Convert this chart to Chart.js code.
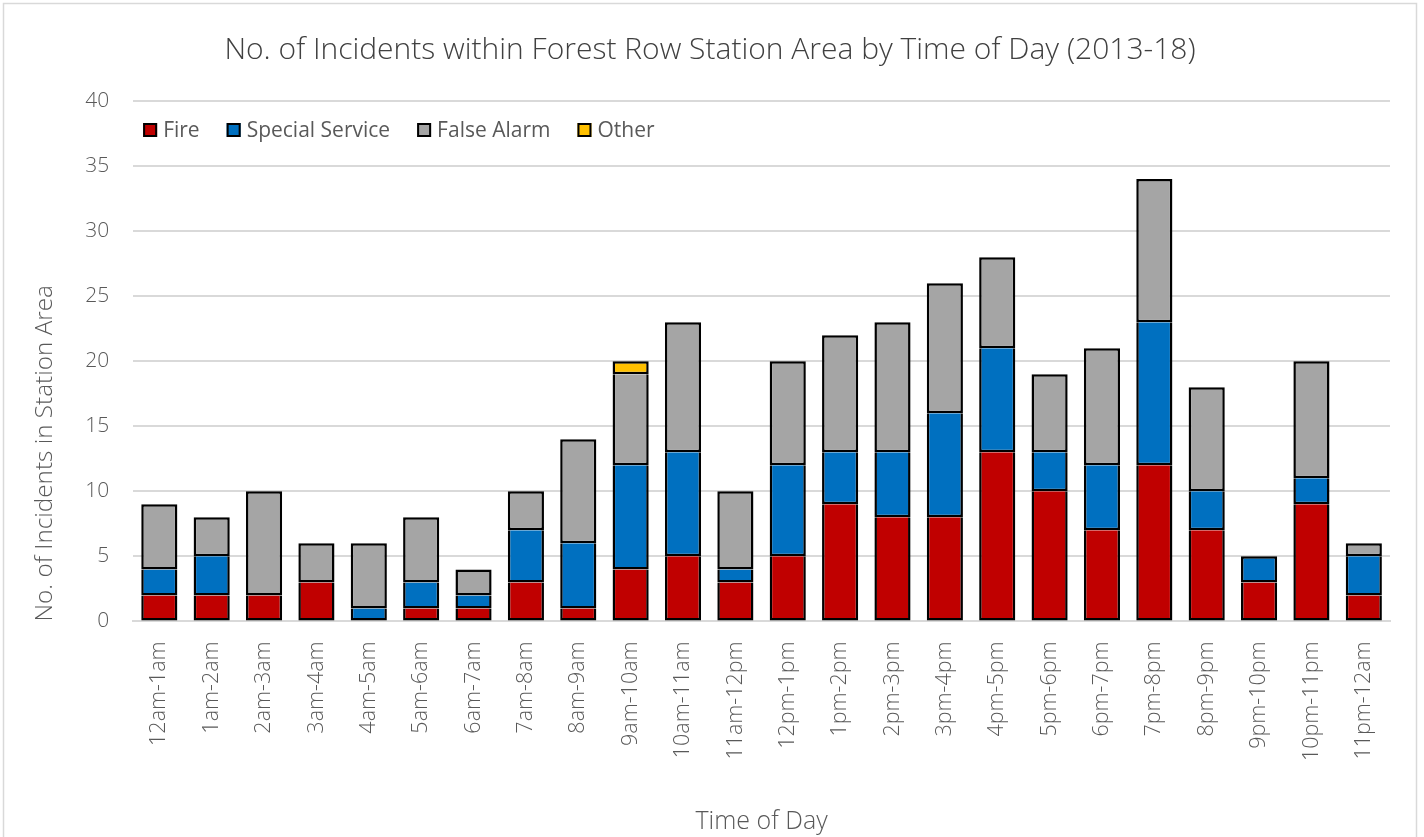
<!DOCTYPE html>
<html>
<head>
<meta charset="utf-8">
<script src="https://cdn.jsdelivr.net/npm/chart.js@4"></script>
<style>
  html, body { margin: 0; padding: 0; background: #ffffff; }
  #wrap { width: 1424px; height: 837px; }
</style>
</head>
<body>
<div id="wrap"><canvas id="c" width="1424" height="837"></canvas></div>
<script>
// Hourly bands
const timeBands = ['12am-1am','1am-2am','2am-3am','3am-4am','4am-5am','5am-6am','6am-7am','7am-8am',
  '8am-9am','9am-10am','10am-11am','11am-12pm','12pm-1pm','1pm-2pm','2pm-3pm','3pm-4pm',
  '4pm-5pm','5pm-6pm','6pm-7pm','7pm-8pm','8pm-9pm','9pm-10pm','10pm-11pm','11pm-12am'];

// Incident counts per band, by type
const fire           = [2,2,2,3,0,1,1,3,1,4,5,3,5,9,8,8,13,10,7,12,7,3,9,2];
const specialService = [2,3,0,0,1,2,1,4,5,8,8,1,7,4,5,8,8,3,5,11,3,2,2,3];
const falseAlarm     = [5,3,8,3,5,5,2,3,8,7,10,6,8,9,10,10,7,6,9,11,8,0,9,1];
const other          = [0,0,0,0,0,0,0,0,0,1,0,0,0,0,0,0,0,0,0,0,0,0,0,0];

const yTicks = [0,5,10,15,20,25,30,35,40];

const FONT = "'Open Sans', 'Segoe UI', sans-serif";
const TEXT = '#595959';
const allSeries = [fire, specialService, falseAlarm, other];
const skipZero = arr => arr.map(v => v === 0 ? null : v);

// Index of the highest non-empty segment in a column
function topSegment(i) {
  let top = -1;
  allSeries.forEach((s, k) => { if (s[i]) top = k; });
  return top;
}

function series(label, data, color) {
  return {
    label,
    data: skipZero(data),
    backgroundColor: color,
    borderColor: '#000000',
    borderWidth: 2.5,
    // joints are outlined once, by the upper segment's bottom edge
    borderSkipped: ctx => ctx.datasetIndex === topSegment(ctx.dataIndex) ? false : 'end',
    categoryPercentage: 1.0,
    barPercentage: 0.69
  };
}

const frame = {
  id: 'frame',
  beforeDraw(chart) {
    const ctx = chart.ctx;
    ctx.save();
    ctx.fillStyle = '#ffffff';
    ctx.fillRect(0, 0, chart.width, chart.height);
    ctx.strokeStyle = '#d9d9d9';
    ctx.lineWidth = 1.5;
    ctx.strokeRect(3.5, 3.5, 1413, 840);
    ctx.restore();
  }
};

// Single-row key inside the top-left of the plot area
const insetLegend = {
  id: 'insetLegend',
  afterDatasetsDraw(chart) {
    const ctx = chart.ctx;
    const area = chart.chartArea;
    const y = area.top + 29;
    let x = area.left + 10;
    ctx.save();
    ctx.font = `21px ${FONT}`;
    ctx.textBaseline = 'middle';
    chart.data.datasets.forEach(ds => {
      ctx.fillStyle = ds.backgroundColor;
      ctx.fillRect(x, y - 7, 14, 14);
      ctx.strokeStyle = '#000000';
      ctx.lineWidth = 2;
      ctx.strokeRect(x + 1, y - 6, 12, 12);
      x += 20;
      ctx.fillStyle = TEXT;
      ctx.fillText(ds.label, x, y + 1);
      x += ctx.measureText(ds.label).width + 27;
    });
    ctx.restore();
  }
};

new Chart(document.getElementById('c'), {
  type: 'bar',
  data: {
    labels: timeBands,
    datasets: [
      series('Fire', fire, '#C00000'),
      series('Special Service', specialService, '#0070C0'),
      series('False Alarm', falseAlarm, '#A5A5A5'),
      series('Other', other, '#FFC000')
    ]
  },
  options: {
    responsive: false,
    animation: false,
    layout: { padding: { left: 30, right: 34, top: 10, bottom: 0 } },
    plugins: {
      title: {
        display: true,
        text: 'No. of Incidents within Forest Row Station Area by Time of Day (2013-18)',
        color: '#404040',
        font: { family: FONT, size: 30, weight: '300' },
        padding: { top: 22, bottom: 33 }
      },
      legend: { display: false },
      tooltip: { enabled: false }
    },
    scales: {
      x: {
        stacked: true,
        grid: { display: false },
        border: { display: true, color: '#d9d9d9', width: 2 },
        ticks: {
          color: TEXT,
          font: { family: FONT, size: 21.5, weight: '300' },
          maxRotation: 90,
          minRotation: 90,
          autoSkip: false,
          padding: 12
        },
        title: {
          display: true,
          text: 'Time of Day',
          color: TEXT,
          font: { family: FONT, size: 25, weight: '300' },
          padding: { top: 34, bottom: 0 }
        }
      },
      y: {
        stacked: true,
        min: 0,
        max: 40,
        afterBuildTicks(axis) { axis.ticks = yTicks.map(v => ({ value: v })); },
        grid: { color: '#d9d9d9', lineWidth: 2, drawTicks: false },
        border: { display: false },
        ticks: {
          color: TEXT,
          font: { family: FONT, size: 21, weight: '300' },
          padding: 24
        },
        title: {
          display: true,
          text: 'No. of Incidents in Station Area',
          align: 'start',
          color: TEXT,
          font: { family: FONT, size: 24.3, weight: '300' },
          padding: { top: 0, bottom: 2 }
        }
      }
    }
  },
  plugins: [frame, insetLegend]
});
</script>
</body>
</html>
